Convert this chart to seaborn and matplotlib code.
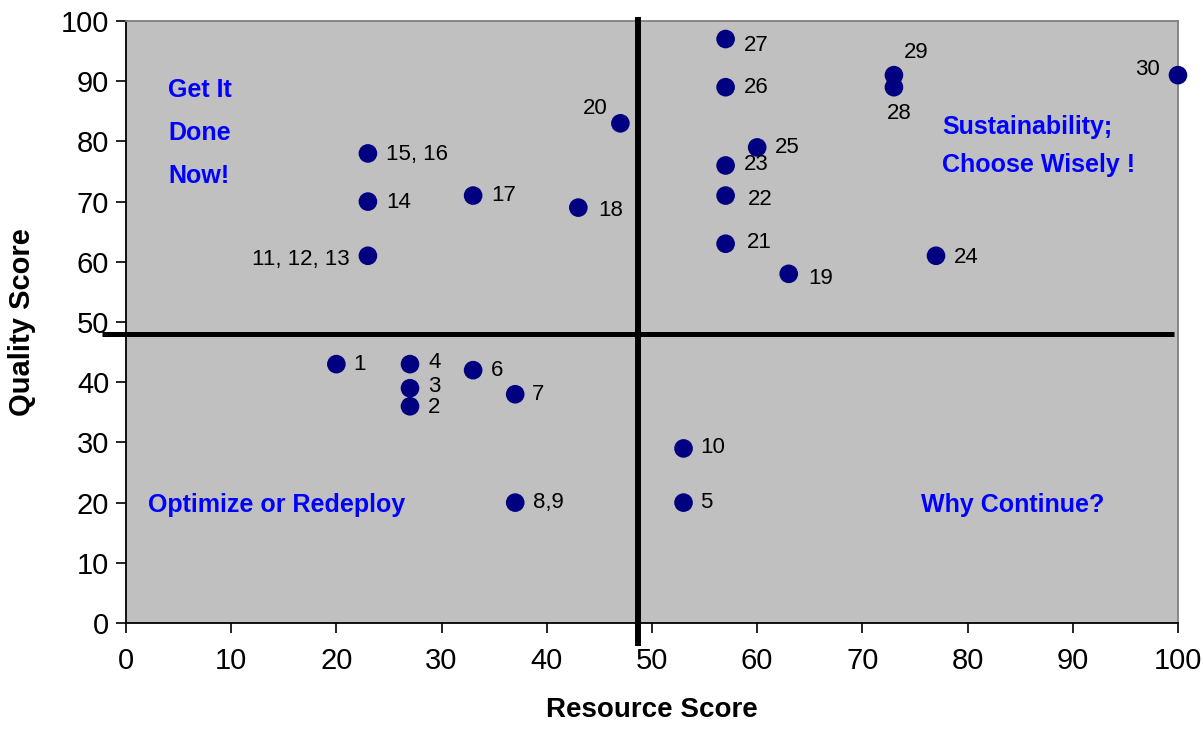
import matplotlib
matplotlib.use("Agg")
import matplotlib.pyplot as plt
import seaborn as sns
import pandas as pd

# ---- data ----
labels = ["1", "2", "3", "4", "5", "6", "7", "8,9", "10", "11, 12, 13",
          "14", "15, 16", "17", "18", "19", "20", "21", "22", "23", "24",
          "25", "26", "27", "28", "29", "30"]
resource = [20, 27, 27, 27, 53, 33, 37, 37, 53, 23,
            23, 23, 33, 43, 63, 47, 57, 57, 57, 77,
            60, 57, 57, 73, 73, 100]
quality = [43, 36, 39, 43, 20, 42, 38, 20, 29, 61,
           70, 78, 71, 69, 58, 83, 63, 71, 76, 61,
           79, 89, 97, 89, 91, 91]
quadrant_text = ["Get It\nDone\nNow!", "Sustainability;\nChoose Wisely !",
                 "Optimize or Redeploy", "Why Continue?"]
x_divider = 48.7
y_divider = 48

# label offsets in points (layout only)
offsets = {
    "1": (12, 0, "left"), "2": (13, -1, "left"), "3": (13, 1, "left"),
    "4": (13, 1, "left"), "5": (12, 0, "left"), "6": (13, 0, "left"),
    "7": (12, 0, "left"), "8,9": (13, 0, "left"), "10": (12, 1, "left"),
    "11, 12, 13": (-13, -3, "right"), "14": (13, -1, "left"),
    "15, 16": (13, -1, "left"), "17": (13, 0, "left"), "18": (14, -2, "left"),
    "19": (14, -3, "left"), "20": (-9, 11, "right"), "21": (15, 1, "left"),
    "22": (16, -3, "left"), "23": (13, 1, "left"), "24": (13, -1, "left"),
    "25": (13, 0, "left"), "26": (13, 0, "left"), "27": (13, -5, "left"),
    "28": (4, -19, "center"), "29": (7, 16, "left"), "30": (-13, 4, "right"),
}

df = pd.DataFrame({"Resource Score": resource, "Quality Score": quality, "label": labels})

sns.set_style("white")
plt.rcParams["font.family"] = ["Liberation Sans", "DejaVu Sans"]
plt.rcParams["text.color"] = "black"
plt.rcParams["axes.labelcolor"] = "black"
plt.rcParams["xtick.color"] = "black"
plt.rcParams["ytick.color"] = "black"

fig = plt.figure(figsize=(12.03, 7.36), dpi=100)
ax = fig.add_axes([0.1047, 0.1535, 0.8745, 0.818])
ax.set_facecolor("#C0C0C0")

sns.scatterplot(data=df, x="Resource Score", y="Quality Score", ax=ax,
                color="#000080", s=180, edgecolor="none", zorder=5, clip_on=False)

ax.set_xlim(0, 100)
ax.set_ylim(0, 100)
ax.set_xticks(range(0, 101, 10))
ax.set_yticks(range(0, 101, 10))
ax.tick_params(axis="both", direction="out", length=7, width=1.2, colors="black",
               labelsize=21, bottom=True, left=True)
ax.tick_params(axis="x", pad=10)
ax.tick_params(axis="y", pad=5)

for side in ["left", "bottom"]:
    ax.spines[side].set_color("black")
    ax.spines[side].set_linewidth(1.3)
for side in ["top", "right"]:
    ax.spines[side].set_color("#808080")
    ax.spines[side].set_linewidth(1.3)

ax.set_xlabel("Resource Score", fontsize=20, fontweight="bold", labelpad=16, color="black")
ax.set_ylabel("Quality Score", fontsize=21, fontweight="bold", labelpad=18, color="black")

# quadrant dividers (extend beyond axes like the original)
ax.plot([x_divider, x_divider], [-3.8, 100.6], color="black", lw=4.3,
        clip_on=False, zorder=4, solid_capstyle="butt")
ax.plot([-2.3, 99.6], [y_divider, y_divider], color="black", lw=3.6,
        clip_on=False, zorder=4, solid_capstyle="butt")

# point labels
for lab, xv, yv in zip(labels, resource, quality):
    dx, dy, ha = offsets[lab]
    ax.annotate(lab, (xv, yv), xytext=(dx, dy), textcoords="offset points",
                ha=ha, va="center", fontsize=16, color="black", zorder=6)

# quadrant texts
qkw = dict(color="#0000FF", fontweight="bold", fontsize=18, zorder=6)
ax.text(4.0, 81.4, quadrant_text[0], ha="left", va="center", linespacing=2.0, **qkw)
ax.text(77.6, 79.2, quadrant_text[1], ha="left", va="center", linespacing=1.75, **qkw)
ax.text(2.1, 19.6, quadrant_text[2], ha="left", va="center", **qkw)
ax.text(75.6, 19.6, quadrant_text[3], ha="left", va="center", **qkw)

fig.savefig("out.png", dpi=100)
